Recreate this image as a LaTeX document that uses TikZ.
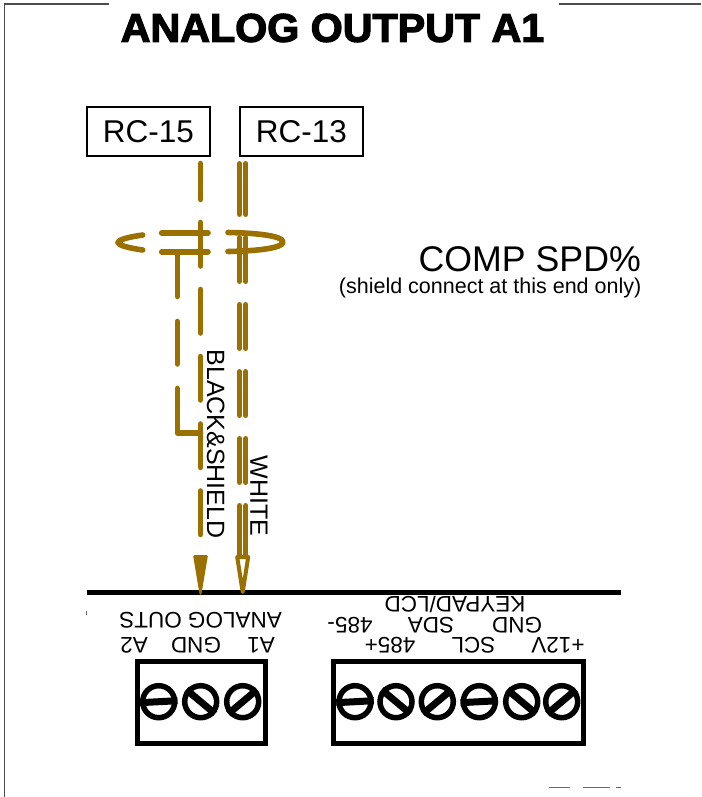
\documentclass[tikz,border=0pt]{standalone}
\usepackage{fontspec}
\setmainfont{Liberation Sans}
\newfontfamily\titlefont[BoldFeatures={FakeBold=3,FakeStretch=1.03}]{Liberation Sans}
\usetikzlibrary{calc}
\definecolor{wirebrown}{HTML}{9A7000}
\begin{document}
\begin{tikzpicture}[
    x=1pt, y=-1pt,
    title/.style={font=\titlefont\bfseries\fontsize{40}{40}\selectfont, inner sep=0pt},
    relay/.style={rectangle, draw, line width=1.2pt, minimum width=123pt, minimum height=49pt, inner sep=0pt, font=\fontsize{31.5}{31.5}\selectfont},
    note/.style={inner sep=0pt, anchor=east},
    wirename/.style={inner sep=0pt, rotate=-90, font=\fontsize{25}{25}\selectfont},
    pin/.style={inner sep=0pt, rotate=180, font=\fontsize{22.5}{22.5}\selectfont},
    block/.style={rectangle, draw, line width=5pt, minimum height=82pt, inner sep=0pt},
    screw/.style={circle, draw, line width=5.5pt, minimum size=32pt, inner sep=0pt},
    slot/.style={line width=7pt},
    wire/.style={wirebrown, line width=5.6pt, line cap=round, line join=round},
    thinwire/.style={wire, line width=5pt},
    dashA/.style={dash pattern=on 36 off 23 on 43.5 off 23.5 on 43.5 off 23.5 on 43.5 off 24 on 43.5 off 23.5 on 43.5 off 100},
    dashB/.style={dash pattern=on 51 off 23 on 44 off 23 on 44 off 23 on 44 off 23 on 44 off 23 on 200 off 1},
    dashC/.style={dash pattern=on 44.5 off 25 on 42.5 off 24.5 on 200 off 1},
    scrap/.style={line width=1pt, black!60}
]
    \useasboundingbox (0,0) rectangle (701,797);

    % frame
    \draw[line width=1.5pt, black!70] (109,4) -- (4.5,4) -- (4.5,797);
    \draw[line width=1.5pt, black!70] (559,4) -- (701,4);
    \draw[scrap] (549,787) -- (570,787);
    \draw[scrap] (583,787) -- (610,787);
    \draw[scrap] (616,787) -- (621,787);
    \draw[scrap] (86,611) -- (86,615);

    \node[title] (head) at (332.5,28) {ANALOG OUTPUT A1};

    \node[relay] (rc15) at (148.5,131.5) {RC-15};
    \node[relay] (rc13) at (301.5,131.5) {RC-13};

    \node[note, font=\fontsize{35.7}{35.7}\selectfont] (comp) at (641,259) {COMP SPD\%};
    \node[note, font=\fontsize{21.5}{21.5}\selectfont] (shield) at (641.5,288) {(shield connect at this end only)};

    % free ends of the wires
    \coordinate (top15) at (200.5,163.5);
    \coordinate (top13a) at (239.5,163.5);
    \coordinate (top13b) at (245.9,163.5);
    \coordinate (end15) at (200.5,555);
    \coordinate (end13a) at (239.5,556);
    \coordinate (end13b) at (245.9,556);
    \coordinate (tip15) at (200.5,595);
    \coordinate (tip13) at (242.7,595);
    \coordinate (drain) at (177.3,252);
    \coordinate (bend) at (177.3,433);
    \coordinate (tap) at (200.5,433);

    % bus bar
    \draw[line width=5.5pt] (87,592.5) -- (621,592.5);

    \draw[wire, dashA] (top15) -- (end15);

    % arrow heads
    \fill[wirebrown, rounded corners=1.5pt] ($(tip15)+(-7.5,-40)$) -- ($(tip15)+(7.5,-40)$) -- ($(tip15)+(0.8,0)$) -- ($(tip15)+(-0.8,0)$) -- cycle;
    \draw[wirebrown, fill=white, line width=4pt, line join=round] ($(tip13)+(-5.5,-38)$) -- ($(tip13)+(5.5,-38)$) -- ($(tip13)+(0,-3)$) -- cycle;

    \draw[thinwire, dashB] (top13a) -- (end13a);
    \draw[thinwire, dashB] (top13b) -- (end13b);

    % shield loop
    \draw[wire] (142.7,235) .. controls (128,237) and (118,240) .. (118,242.5) .. controls (118,245) and (128,248) .. (142.7,250);
    \draw[wire] (161.7,233) -- (208,233);
    \draw[wire] (161.7,251.7) -- (208,251.7);
    \draw[wire] (228,232.5) .. controls (258,233) and (283,236) .. (283,242) .. controls (283,248) and (258,251) .. (228,251.5);
    \draw[wire, dashC] (drain) -- (bend) -- (tap);

    \node[wirename] (black) at (215.7,444) {BLACK\&SHIELD};
    \node[wirename] (white) at (259,496) {WHITE};

    % terminal labels
    \node[pin] (outs) at (200.5,620) {ANALOG OUTS};
    \node[pin] (a2) at (134,645) {A2};
    \node[pin] (gnd1) at (196,645) {GND};
    \node[pin] (a1) at (261,645) {A1};
    \node[pin] (keypad) at (455,605) {KEYPAD/LCD};
    \node[pin] (rs485m) at (350,625) {485-};
    \node[pin] (sda) at (431,625) {SDA};
    \node[pin] (gnd2) at (517,625) {GND};
    \node[pin] (rs485p) at (390,645) {485+};
    \node[pin] (scl) at (473.5,645) {SCL};
    \node[pin] (v12) at (558,645) {+12V};

    % terminal blocks
    \node[block, minimum width=128pt] (blockA) at (201,702) {};
    \node[block, minimum width=250pt] (blockB) at (458,702) {};

    \node[screw] (s1) at (158.7,701.7) {};
    \node[screw] (s2) at (200.7,701.7) {};
    \node[screw] (s3) at (242.7,701.7) {};
    \node[screw] (s4) at (355,701.7) {};
    \node[screw] (s5) at (396,701.7) {};
    \node[screw] (s6) at (437.3,701.7) {};
    \node[screw] (s7) at (479.3,701.7) {};
    \node[screw] (s8) at (521.7,701.7) {};
    \node[screw] (s9) at (561.7,701.7) {};

    \draw[slot] (s1.183) -- (s1.3);
    \draw[slot] (s2.140) -- (s2.320);
    \draw[slot] (s3.220) -- (s3.40);
    \draw[slot] (s4.183) -- (s4.3);
    \draw[slot] (s5.140) -- (s5.320);
    \draw[slot] (s6.220) -- (s6.40);
    \draw[slot] (s7.183) -- (s7.3);
    \draw[slot] (s8.140) -- (s8.320);
    \draw[slot] (s9.220) -- (s9.40);
\end{tikzpicture}
\end{document}
